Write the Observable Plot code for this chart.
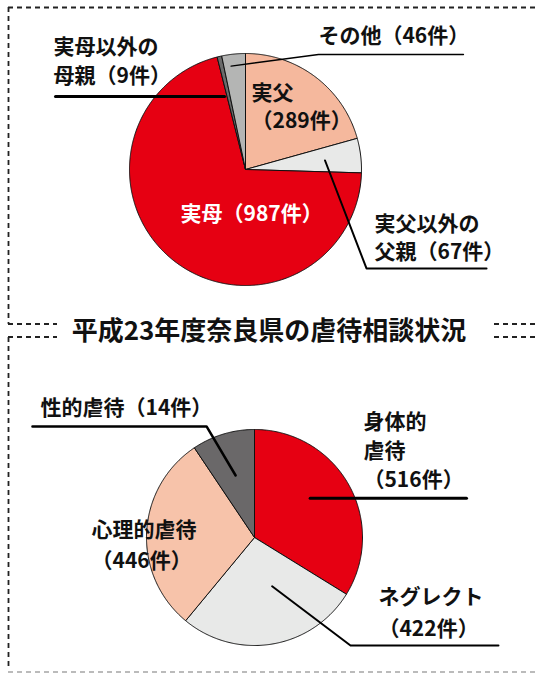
<!DOCTYPE html>
<html>
<head>
<meta charset="utf-8">
<script src="https://cdn.jsdelivr.net/npm/d3@7"></script>
<script src="https://cdn.jsdelivr.net/npm/@observablehq/plot@0.6"></script>
<style>
  html, body { margin: 0; padding: 0; background: #fff; }
  #wrap { position: relative; width: 536px; height: 673px; overflow: hidden; font-family: "Noto Sans CJK JP", sans-serif; }
  #wrap > svg, #wrap > div { position: absolute; left: 0; }
  #title { width: 536px; text-align: center; font-size: 26px; font-weight: bold; color: #111; line-height: 30px; }
</style>
</head>
<body>
<div id="wrap"></div>
<script>
// ---------- data ----------
const title = "平成23年度奈良県の虐待相談状況";

// Top pie: who abused (clockwise from 12 o'clock)
const topCategories = ["実父", "実父以外の父親", "実母", "実母以外の母親", "その他"];
const topCounts = [289, 67, 987, 9, 46];
const topColors = ["#f5b89d", "#e8e9e8", "#e60012", "#6a6a6a", "#b4b5b4"];

// Bottom pie: kind of abuse (clockwise from 12 o'clock)
const bottomCategories = ["身体的虐待", "ネグレクト", "心理的虐待", "性的虐待"];
const bottomCounts = [516, 422, 446, 14];
// slice sizes as they are drawn in the picture (percent of circle)
const bottomShares = [33.8, 27.2, 29.6, 9.4];
const bottomColors = ["#e60012", "#e8e9e8", "#f7c3aa", "#6a6869"];

// ---------- helpers ----------
const wrap = document.getElementById("wrap");
const W = 536;

function slicePoints(values, cats) {
  const arcs = d3.pie().sort(null).value(d => d)(values);
  const pts = [];
  arcs.forEach((a, i) => {
    const cat = cats[i];
    pts.push({cat, x: 0, y: 0});
    const n = Math.max(2, Math.ceil((a.endAngle - a.startAngle) / (Math.PI / 360)));
    for (let k = 0; k <= n; k++) {
      const t = a.startAngle + (a.endAngle - a.startAngle) * k / n;
      pts.push({cat, x: Math.sin(t), y: Math.cos(t)});
    }
    pts.push({cat, x: 0, y: 0});
  });
  return {arcs, pts};
}
function anchor(arc, dDeg, rr) {
  const t = (arc.startAngle + arc.endAngle) / 2 + dDeg * Math.PI / 180;
  return {x: rr * Math.sin(t), y: rr * Math.cos(t)};
}
const lbl = (name, n) => `${name}（${n}件）`;

function piePlot({H, cx, cy, r, cats, values, colors, labels, leaders}) {
  const {arcs, pts} = slicePoints(values, cats);
  const marks = [
    Plot.line(pts, {x: "x", y: "y", z: "cat", fill: "cat", stroke: "#111", strokeWidth: 1, strokeLinejoin: "round"})
  ];
  leaders(arcs).forEach(l => {
    marks.push(Plot.line(l.points, {x: "x", y: "y", stroke: "#000", strokeWidth: l.w}));
  });
  labels.forEach(l => {
    marks.push(Plot.text([l], {x: "x", y: "y", text: "t", textAnchor: "start", lineHeight: l.lh || 1.34,
      fill: l.white ? "#fff" : "#111", fontWeight: "bold", fontSize: 21}));
  });
  return Plot.plot({
    width: W, height: H, margin: 0,
    x: {domain: [-cx / r, (W - cx) / r], axis: null},
    y: {domain: [-(H - cy) / r, cy / r], axis: null},
    color: {domain: cats, range: colors},
    style: {fontFamily: "'Noto Sans CJK JP', sans-serif", background: "transparent", overflow: "visible"},
    marks
  });
}

// ---------- top pie ----------
const topSvg = piePlot({
  H: 323, cx: 245, cy: 169, r: 116,
  cats: topCategories, values: topCounts, colors: topColors,
  labels: [
    {x: 0.629, y: 1.172, t: lbl("その他", topCounts[4])},
    {x: -1.655, y: 0.948, lh: 1.34, t: "実母以外の\n" + lbl("母親", topCounts[3])},
    {x: 0.052, y: 0.556, lh: 1.34, t: "実父\n" + `（${topCounts[0]}件）`},
    {x: 1.112, y: -0.573, lh: 1.34, t: "実父以外の\n" + lbl("父親", topCounts[1])},
    {x: -0.560, y: -0.362, white: true, t: lbl("実母", topCounts[2])}
  ],
  leaders: arcs => {
    const a4 = anchor(arcs[4], -2, 0.9);
    const a3 = anchor(arcs[3], -3, 0.655);
    const a1 = anchor(arcs[1], 0.5, 0.69);
    return [
      {w: 1.4, points: [a4, {x: 0.629, y: 0.991}, {x: 1.879, y: 0.991}]},
      {w: 3, points: [a3, {x: -1.638, y: a3.y}]},
      {w: 2, points: [a1, {x: 1.043, y: -0.853}, {x: 2.078, y: -0.853}]}
    ];
  }
});
topSvg.style.top = "0px";
wrap.appendChild(topSvg);

// ---------- bottom pie ----------
const bottomSvg = piePlot({
  H: 336, cx: 254, cy: 200, r: 108,
  cats: bottomCategories, values: bottomShares, colors: bottomColors,
  labels: [
    {x: -1.981, y: 1.222, t: lbl("性的虐待", bottomCounts[3])},
    {x: 1.009, y: 0.824, lh: 1.38, t: "身体的\n虐待\n" + `（${bottomCounts[0]}件）`},
    {x: -1.509, y: -0.051, lh: 1.476, t: "心理的虐待\n" + `（${bottomCounts[2]}件）`},
    {x: 1.148, y: -0.667, lh: 1.52, t: "ネグレクト\n" + `（${bottomCounts[1]}件）`}
  ],
  leaders: arcs => {
    const a3 = anchor(arcs[3], 0, 0.6);
    const a0 = anchor(arcs[0], -6, 0.63);
    const a1 = anchor(arcs[1], -10.5, 0.48);
    return [
      {w: 2.5, points: [a3, {x: -0.444, y: 1.028}, {x: -2.056, y: 1.028}]},
      {w: 3, points: [a0, {x: 1.963, y: a0.y}]},
      {w: 2, points: [a1, {x: 0.889, y: -1.0}, {x: 2.259, y: -1.0}]}
    ];
  }
});
bottomSvg.style.top = "337px";
wrap.appendChild(bottomSvg);

// ---------- title ----------
const t = document.createElement("div");
t.id = "title";
t.textContent = title;
t.style.top = "314px";
t.style.left = "1px";
wrap.appendChild(t);

// ---------- dashed frames ----------
const frame = d3.create("svg").attr("width", W).attr("height", 673)
  .style("position", "absolute").style("left", "0px").style("top", "0px").style("pointer-events", "none");
const seg = [
  [8, 7.5, 536, 7.5, "#222"],
  [8.5, 7, 8.5, 324, "#222"],
  [8, 324, 57, 324, "#222"],
  [494, 324, 536, 324, "#222"],
  [8, 337, 57, 337, "#222"],
  [494, 337, 536, 337, "#222"],
  [8.5, 337, 8.5, 670, "#222"],
  [8, 672, 536, 672, "#bbb"]
];
frame.selectAll("line").data(seg).join("line")
  .attr("x1", d => d[0]).attr("y1", d => d[1]).attr("x2", d => d[2]).attr("y2", d => d[3])
  .attr("stroke", d => d[4]).attr("stroke-width", 1.8).attr("stroke-dasharray", "5,4");
wrap.appendChild(frame.node());
</script>
</body>
</html>
